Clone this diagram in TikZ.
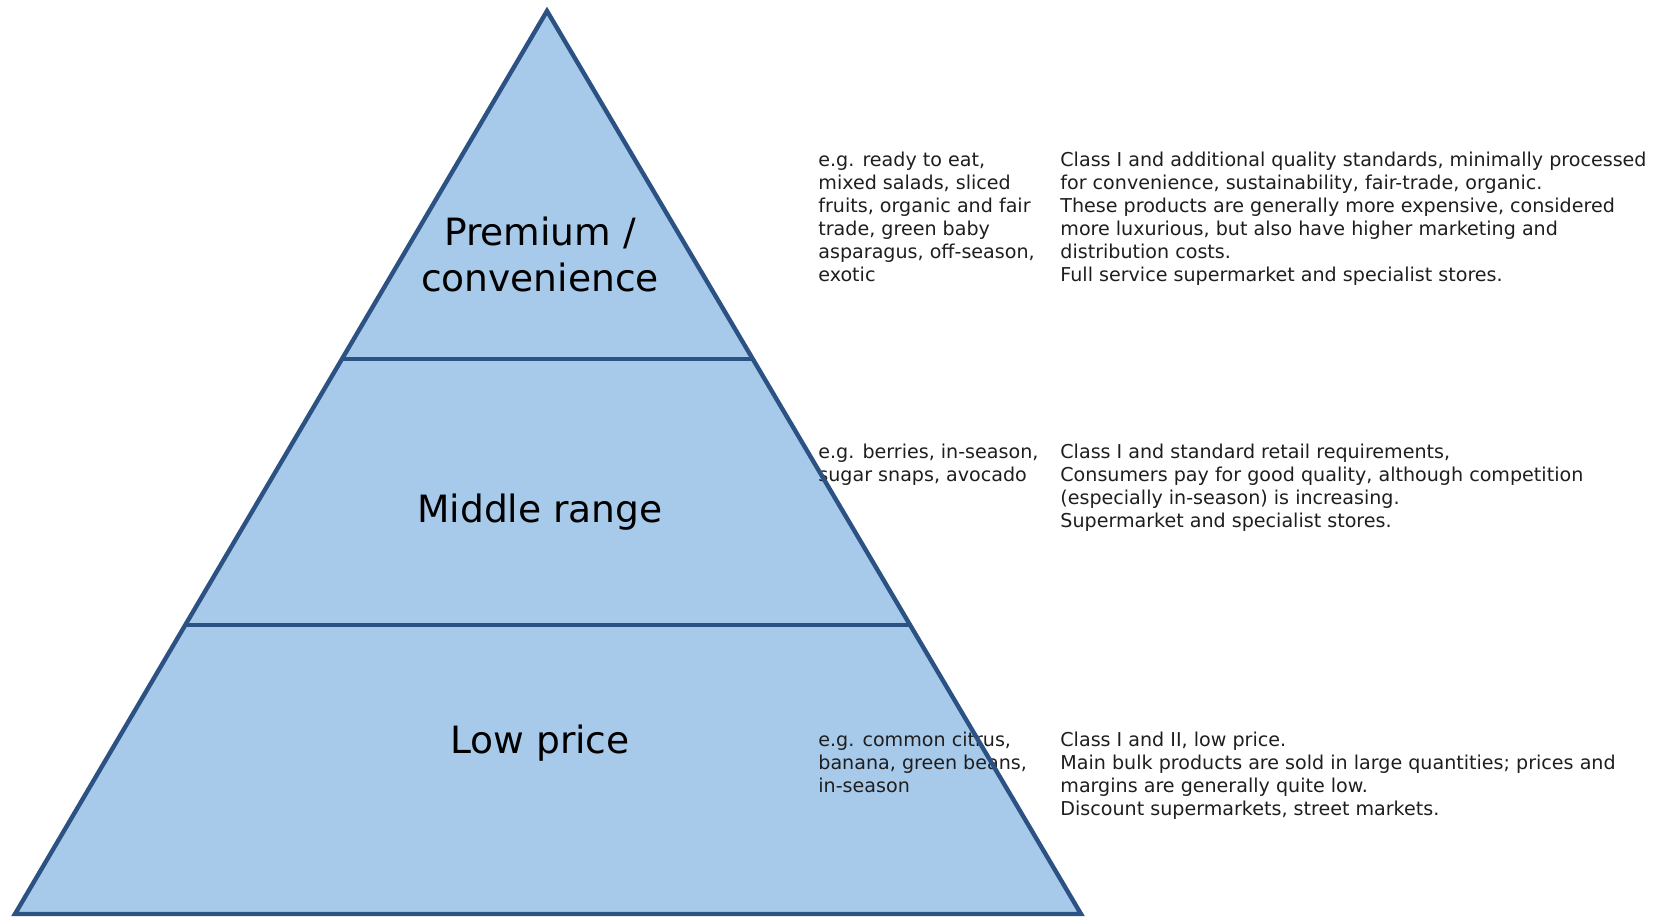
\documentclass[tikz,border=0pt]{standalone}
\usepackage{fontspec}
\setmainfont{DejaVu Sans}
\usetikzlibrary{calc}
\definecolor{pyrfill}{RGB}{168,202,234}
\definecolor{pyrline}{RGB}{44,82,132}
\definecolor{txtgray}{RGB}{30,30,30}
\begin{document}
\begin{tikzpicture}[x=0.5pt,y=-0.5pt,
  tier/.style={font=\fontsize{18.8}{23}\selectfont, align=center, anchor=base, inner sep=0pt, text=black},
  note/.style={font=\fontsize{9.55}{11.5}\selectfont, align=left, anchor=base west, inner sep=0pt, text=txtgray},
  edgeline/.style={draw=pyrline, line width=2.2pt}]
\useasboundingbox (0,0) rectangle (1656,919);
\coordinate (A) at (547,11);
\coordinate (BL) at (15,914);
\coordinate (BR) at (1081,914);
\coordinate (L1) at ($(A)!0.3854!(BL)$);
\coordinate (R1) at ($(A)!0.3854!(BR)$);
\coordinate (L2) at ($(A)!0.68!(BL)$);
\coordinate (R2) at ($(A)!0.68!(BR)$);
\fill[pyrfill] (A) -- (BL) -- (BR) -- cycle;
% tier labels (anchor = baseline of last line)
\node[tier] (premium) at (540,292) {Premium /\\convenience};
\node[tier] (middle) at (540,523) {Middle range};
\node[tier] (low) at (540,754) {Low price};
% notes (anchor = baseline of last line)
\node[note] (ex1) at (818,282) {e.g. ready to eat,\\mixed salads, sliced\\fruits, organic and fair\\trade, green baby\\asparagus, off-season,\\exotic};
\node[note] (de1) at (1060,282) {Class I and additional quality standards, minimally processed\\for convenience, sustainability, fair-trade, organic.\\These products are generally more expensive, considered\\more luxurious, but also have higher marketing and\\distribution costs.\\Full service supermarket and specialist stores.};
\node[note] (ex2) at (818,482) {e.g. berries, in-season,\\sugar snaps, avocado};
\node[note] (de2) at (1060,528) {Class I and standard retail requirements,\\Consumers pay for good quality, although competition\\(especially in-season) is increasing.\\Supermarket and specialist stores.};
\node[note] (ex3) at (818,792) {e.g. common citrus,\\banana, green beans,\\in-season};
\node[note] (de3) at (1060,815) {Class I and II, low price.\\Main bulk products are sold in large quantities; prices and\\margins are generally quite low.\\Discount supermarkets, street markets.};
% lines
\draw[edgeline] (L1) -- (R1);
\draw[edgeline] (L2) -- (R2);
\draw[edgeline] (A) -- (BL) -- (BR) -- cycle;
\end{tikzpicture}
\end{document}
